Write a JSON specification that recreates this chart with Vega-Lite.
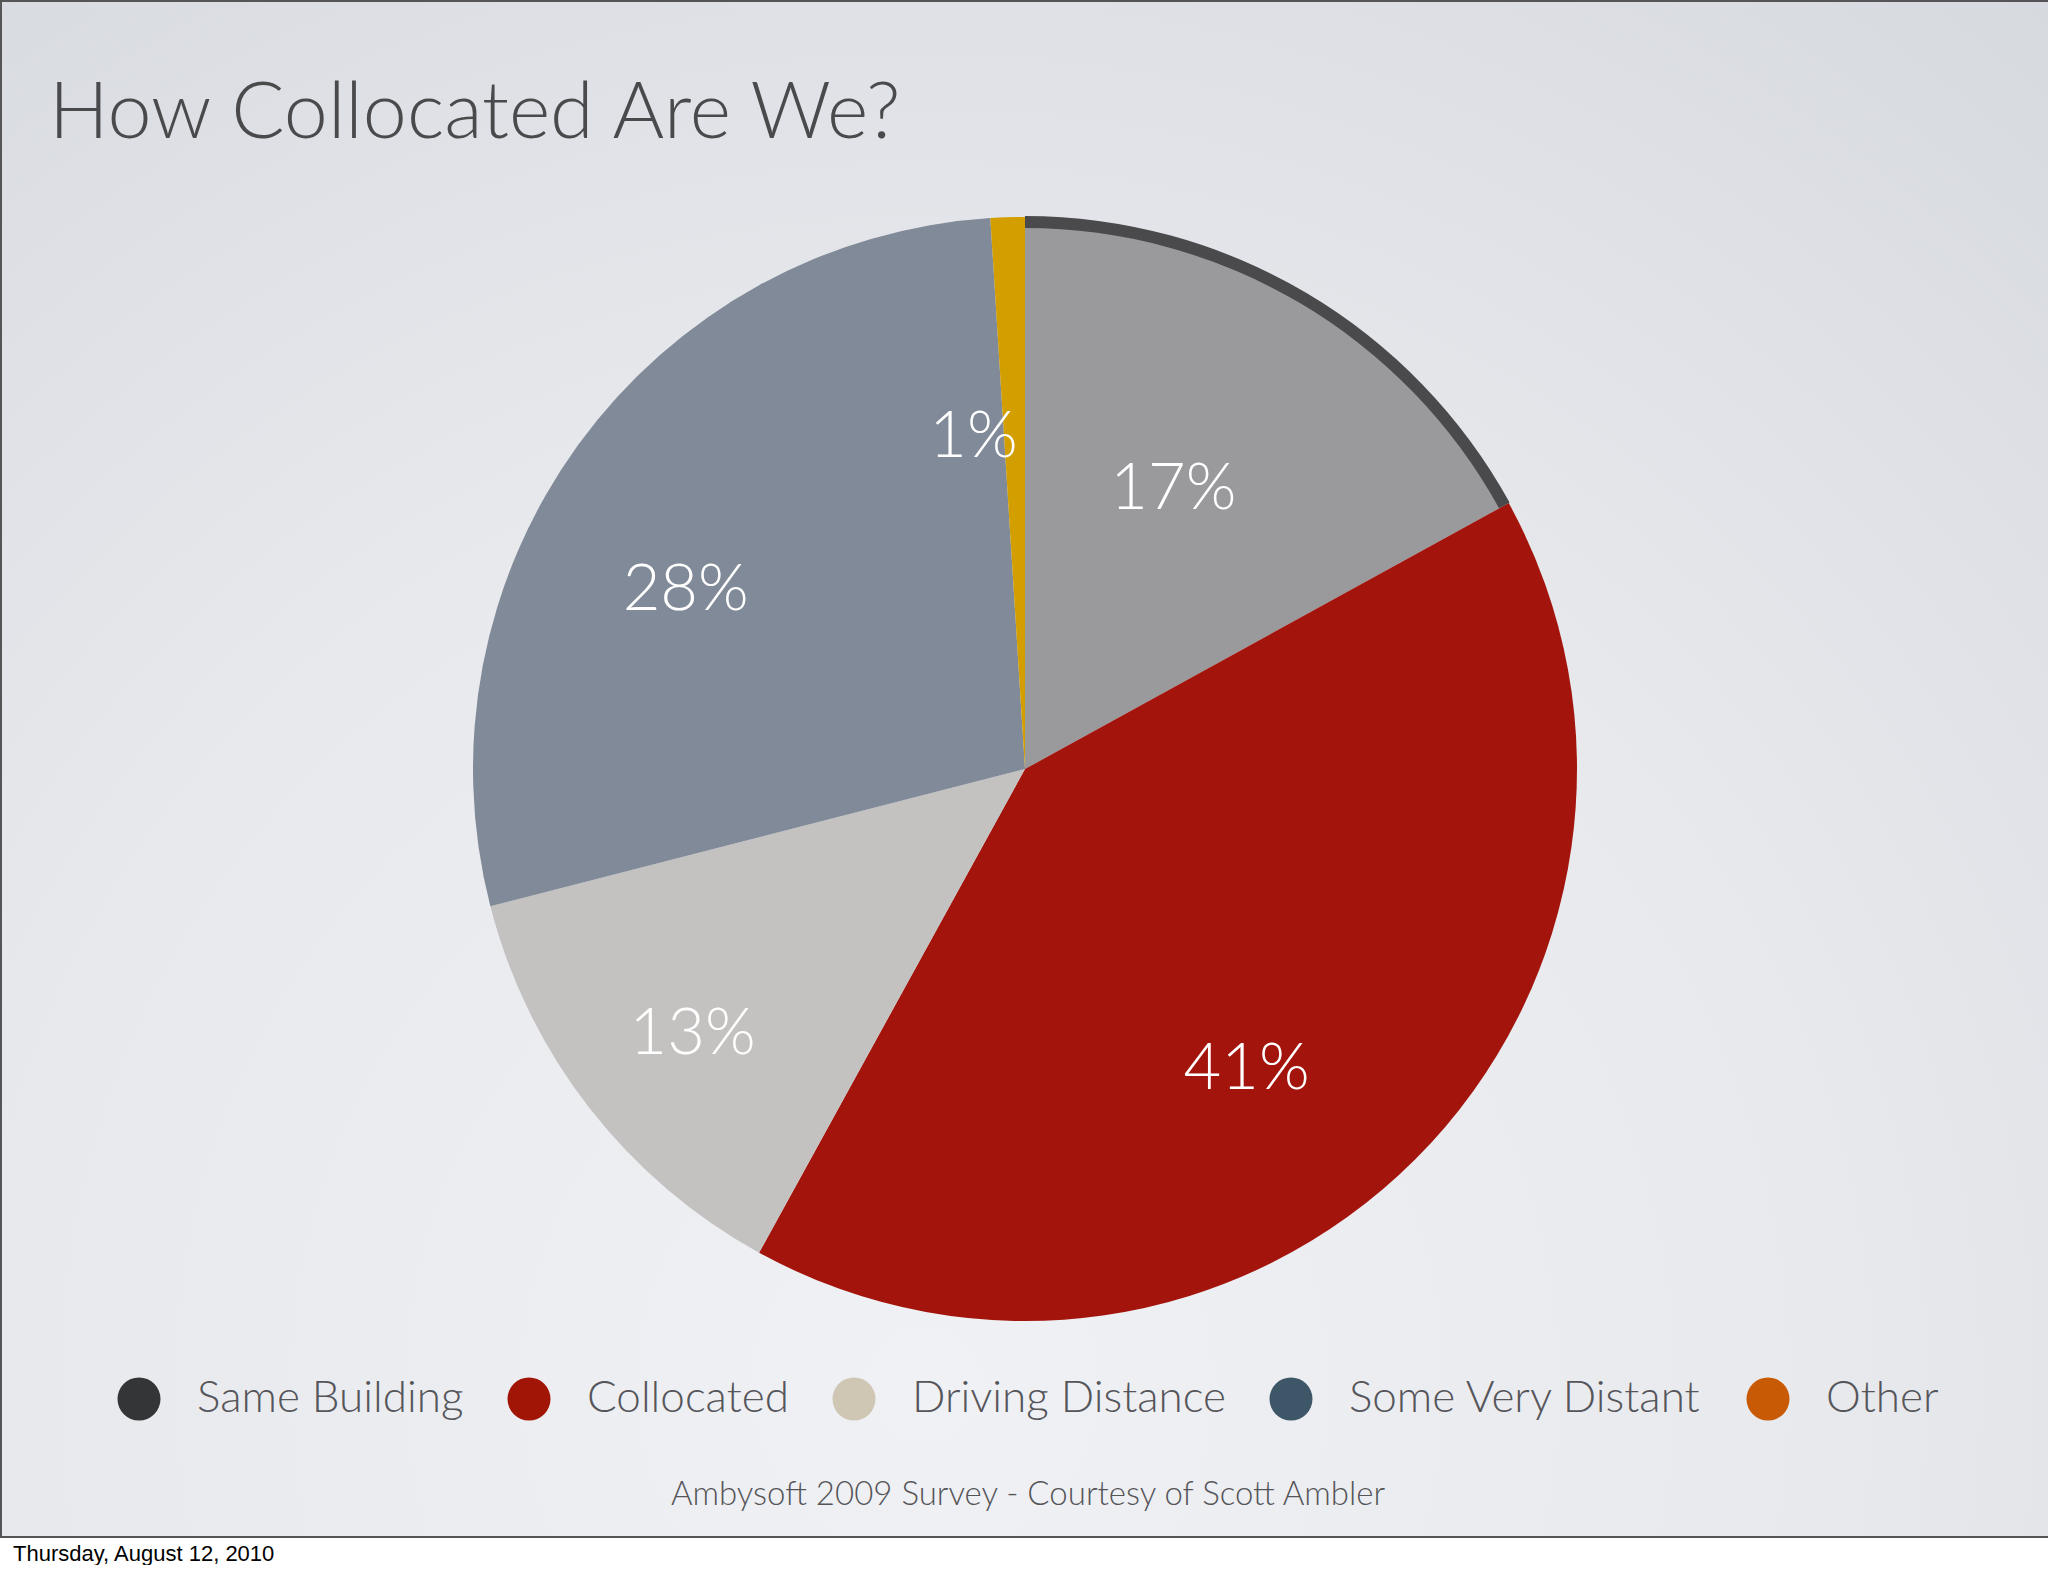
{
  "$schema": "https://vega.github.io/schema/vega-lite/v6.json",
  "background": "#ffffff",
  "padding": 0,
  "title": {
    "text": "Thursday, August 12, 2010",
    "orient": "bottom",
    "anchor": "start",
    "frame": "bounds",
    "font": "Liberation Sans",
    "fontSize": 22,
    "fontWeight": "normal",
    "color": "#000000",
    "offset": 6,
    "dx": 13
  },
  "vconcat": [
    {
      "width": 2048,
      "height": 1536,
      "title": {
        "text": "How Collocated Are We?",
        "anchor": "start",
        "frame": "group",
        "font": "Lato",
        "fontSize": 79,
        "fontWeight": 300,
        "color": "#4a4a4d",
        "baseline": "alphabetic",
        "dx": 48,
        "offset": -216
      },
      "view": {
        "fill": {
          "gradient": "radial",
          "x1": 0.45, "y1": 0.8, "r1": 0,
          "x2": 0.45, "y2": 0.8, "r2": 0.9,
          "stops": [
            {"offset": 0, "color": "#f0f1f5"},
            {"offset": 0.5, "color": "#e7e9ed"},
            {"offset": 1, "color": "#d5d8de"}
          ]
        },
        "stroke": "#555558",
        "strokeWidth": 2
      },
      "data": {
        "values": [
          {"rank": 1, "category": "Same Building", "value": 17, "label": "17%"},
          {"rank": 2, "category": "Collocated", "value": 41, "label": "41%"},
          {"rank": 3, "category": "Driving Distance", "value": 13, "label": "13%"},
          {"rank": 4, "category": "Some Very Distant", "value": 28, "label": "28%"},
          {"rank": 5, "category": "Other", "value": 1, "label": "1%"}
        ]
      },
      "layer": [
        {
          "mark": {"type": "arc", "outerRadius": 552},
          "encoding": {
            "theta": {"field": "value", "type": "quantitative", "stack": true},
            "order": {"field": "rank", "type": "quantitative"},
            "color": {
              "field": "category",
              "type": "nominal",
              "scale": {
                "domain": ["Same Building", "Collocated", "Driving Distance", "Some Very Distant", "Other"],
                "range": ["#9a999c", "#a3150c", "#c4c2c1", "#818a98", "#d39e00"]
              },
              "legend": null
            }
          }
        },
        {
          "mark": {"type": "arc", "innerRadius": 541, "outerRadius": 553},
          "encoding": {
            "theta": {"field": "value", "type": "quantitative", "stack": true},
            "order": {"field": "rank", "type": "quantitative"},
            "fill": {
              "field": "category",
              "type": "nominal",
              "scale": {
                "domain": ["Same Building", "Collocated", "Driving Distance", "Some Very Distant", "Other"],
                "range": ["#4a4a4d", "transparent", "transparent", "transparent", "transparent"]
              },
              "legend": null
            }
          }
        },
        {
          "mark": {"type": "text", "radius": 370, "dx": -40, "dy": 38, "font": "Lato", "fontWeight": 300, "fontSize": 65, "fill": "#ffffff"},
          "encoding": {
            "theta": {"field": "value", "type": "quantitative", "stack": true},
            "order": {"field": "rank", "type": "quantitative"},
            "detail": {"field": "category", "type": "nominal"},
            "text": {"field": "label", "type": "nominal"}
          }
        },
        {
          "mark": {"type": "point", "filled": true, "opacity": 0},
          "encoding": {
            "color": {
              "field": "category",
              "type": "nominal",
              "scale": {
                "domain": ["Same Building", "Collocated", "Driving Distance", "Some Very Distant", "Other"],
                "range": ["#333536", "#a01505", "#cfc6b4", "#3d5769", "#c85a05"]
              },
              "legend": {
                "orient": "none",
                "legendX": 116,
                "legendY": 1376,
                "direction": "horizontal",
                "title": "Ambysoft 2009 Survey - Courtesy of Scott Ambler",
                "titleOrient": "bottom",
                "titleAnchor": "middle",
                "titleFont": "Lato",
                "titleFontWeight": 300,
                "titleFontSize": 33,
                "titleColor": "#555558",
                "titlePadding": 58,
                "titleLimit": 2000,
                "symbolType": "circle",
                "symbolSize": 1850,
                "symbolOpacity": 1,
                "symbolStrokeWidth": 0,
                "labelFont": "Lato",
                "labelFontWeight": 300,
                "labelFontSize": 44,
                "labelColor": "#55555a",
                "labelOffset": 36,
                "labelLimit": 600,
                "columnPadding": 43
              }
            }
          }
        }
      ],
      "resolve": {"scale": {"color": "independent", "fill": "independent"}, "legend": {"color": "independent"}}
    }
  ]
}
